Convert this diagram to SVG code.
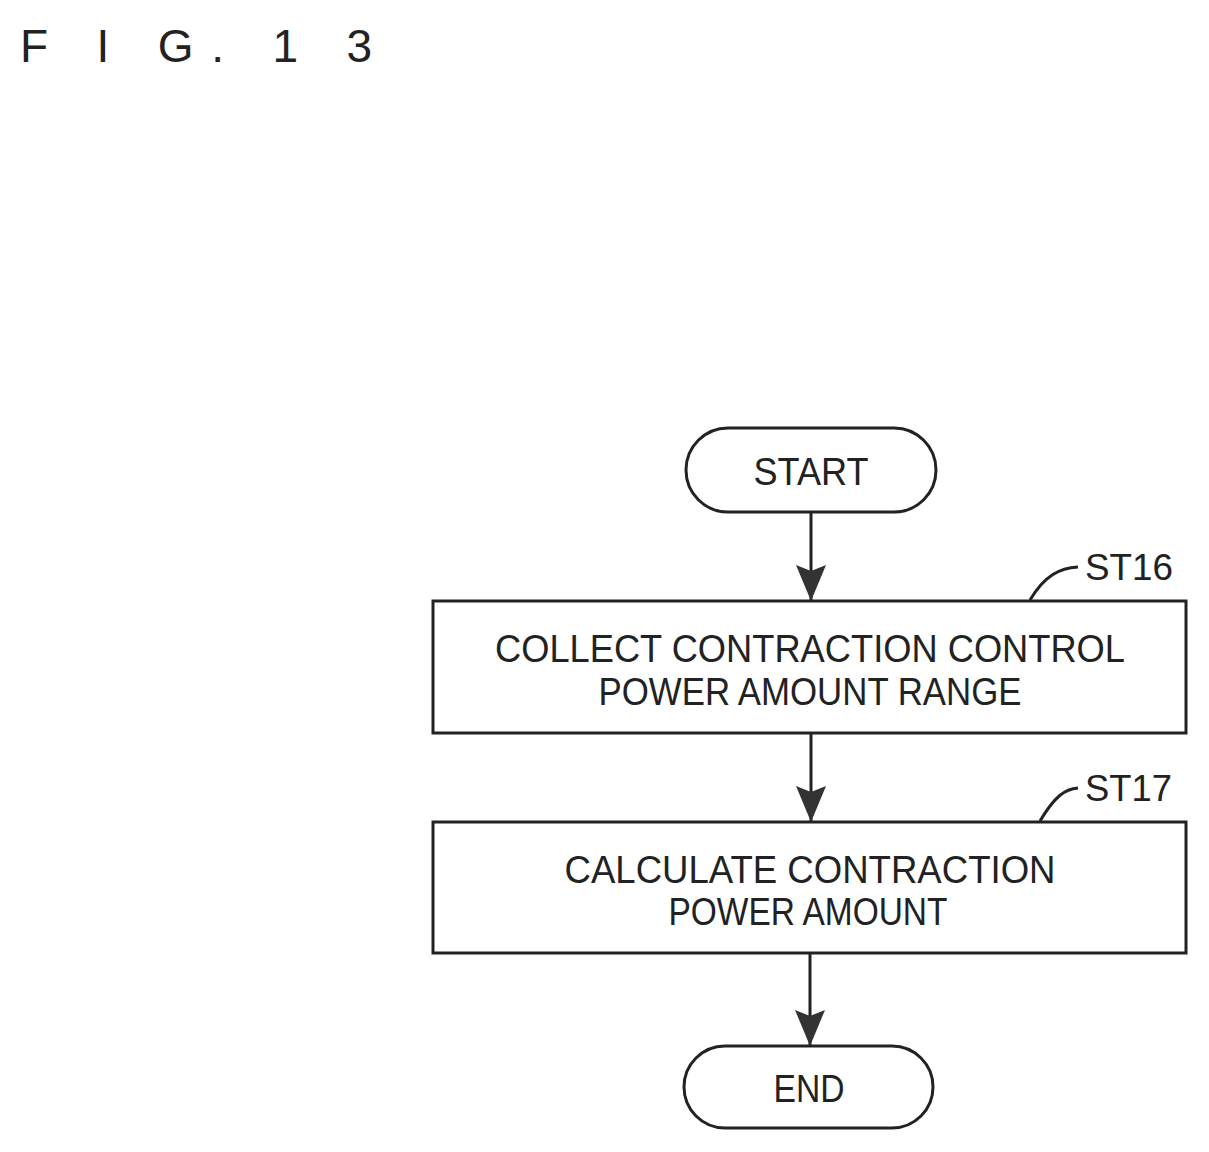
<svg xmlns="http://www.w3.org/2000/svg" width="1209" height="1152" viewBox="0 0 1209 1152">
<style>
.s{fill:none;stroke:#222;stroke-width:3}
.t{font-family:"Liberation Sans",sans-serif;font-size:39px;fill:#222;text-anchor:middle}
.l{font-family:"Liberation Sans",sans-serif;font-size:37px;fill:#222}
</style>
<defs><marker id="a" markerWidth="36" markerHeight="30" refX="36" refY="15" orient="auto" markerUnits="userSpaceOnUse" viewBox="0 0 36 30"><path d="M0,0 L6,15 L0,30 L36,15 Z" fill="#333"/></marker></defs>
<text x="20" y="62" style="font-family:'Liberation Sans',sans-serif;font-size:46px;fill:#222" textLength="352" lengthAdjust="spacing">F I G. 1 3</text>
<g id="connectors">
<line class="s" x1="811" y1="512" x2="811" y2="601" marker-end="url(#a)"/>
<line class="s" x1="811" y1="733" x2="811" y2="822" marker-end="url(#a)"/>
<line class="s" x1="810" y1="953" x2="810" y2="1046" marker-end="url(#a)"/>
<path class="s" d="M1030,600 C1045,575 1060,568 1078,567" stroke-width="1.5"/>
<path class="s" d="M1040,821 C1055,796 1065,789 1078,788" stroke-width="1.5"/>
</g>
<g id="start"><rect class="s" x="686" y="428" width="250" height="84" rx="42"/><text class="t" x="811" y="485" textLength="115" lengthAdjust="spacingAndGlyphs">START</text></g>
<g id="st16"><rect class="s" x="433" y="601" width="753" height="132"/>
<text class="t" x="810" y="662" textLength="630" lengthAdjust="spacingAndGlyphs">COLLECT CONTRACTION CONTROL</text>
<text class="t" x="810" y="705" textLength="423" lengthAdjust="spacingAndGlyphs">POWER AMOUNT RANGE</text>
<text class="l" x="1085" y="580" textLength="88" lengthAdjust="spacingAndGlyphs">ST16</text></g>
<g id="st17"><rect class="s" x="433" y="822" width="753" height="131"/>
<text class="t" x="810" y="883" textLength="491" lengthAdjust="spacingAndGlyphs">CALCULATE CONTRACTION</text>
<text class="t" x="808" y="925" textLength="279" lengthAdjust="spacingAndGlyphs">POWER AMOUNT</text>
<text class="l" x="1085" y="801" textLength="87" lengthAdjust="spacingAndGlyphs">ST17</text></g>
<g id="end"><rect class="s" x="684" y="1046" width="249" height="82" rx="41"/><text class="t" x="809" y="1102" textLength="71" lengthAdjust="spacingAndGlyphs">END</text></g>
</svg>
